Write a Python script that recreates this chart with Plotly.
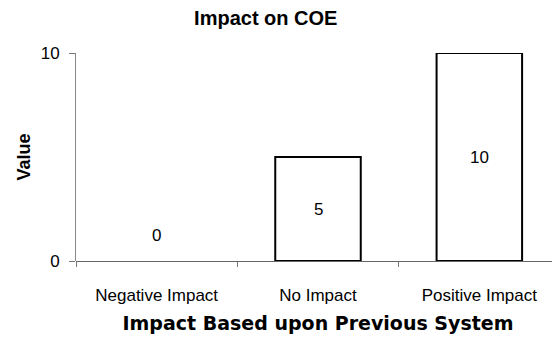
import plotly.graph_objects as go

categories = ["Negative Impact", "No Impact", "Positive Impact"]
values = [0, 5, 10]
y_ticks = [0, 10]

font = "Liberation Sans, Arial, sans-serif"

fig = go.Figure()
fig.add_trace(go.Bar(
    x=categories, y=values,
    marker=dict(color="white",
                line=dict(color="black", width=[0 if v == 0 else 2 for v in values])),
    width=0.53, showlegend=False, hoverinfo="skip",
))

for c, v in zip(categories, values):
    fig.add_annotation(
        x=c, y=v / 2, text=str(v), showarrow=False,
        yshift=26 if v == 0 else 0,
        font=dict(family=font, size=17, color="black"),
    )

fig.update_layout(
    width=552, height=343,
    margin=dict(l=68, r=0, t=45, b=90),
    paper_bgcolor="white", plot_bgcolor="white",
    title=dict(text="<b>Impact on COE</b>", x=0.467, xanchor="center",
               y=0.971, yanchor="middle",
               font=dict(family=font, size=20, color="black")),
    xaxis=dict(
        title=dict(text="<b>Impact Based upon Previous System</b>",
                   font=dict(family="DejaVu Sans, sans-serif", size=19, color="black"),
                   standoff=12),
        tickfont=dict(family=font, size=17, color="black"),
        ticks="outside", tickson="boundaries", ticklen=5, tickcolor="#777",
        ticklabelstandoff=22,
        showline=False, showgrid=False, zeroline=False,
    ),
    yaxis=dict(
        title=dict(text="<b>Value</b>",
                   font=dict(family=font, size=18, color="black"), standoff=5),
        tickvals=y_ticks, range=[0, 10],
        tickfont=dict(family=font, size=17, color="black"),
        ticks="outside", ticklen=6, tickcolor="#777",
        ticklabelstandoff=6,
        showline=True, linecolor="#888", linewidth=1,
        showgrid=False, zeroline=True, zerolinecolor="#666", zerolinewidth=1,
    ),
)

fig.write_html("out.html")
